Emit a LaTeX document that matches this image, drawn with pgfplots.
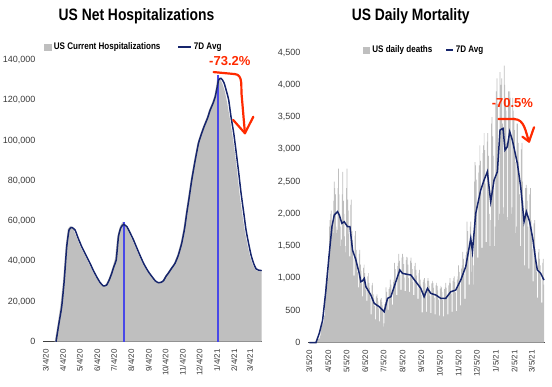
\documentclass[border=0pt]{standalone}
\usepackage{pgfplots}
\pgfplotsset{compat=1.18}
\usepackage{pgfplotstable}
\usepackage{fontspec}
\setmainfont{Liberation Sans}
\newfontfamily\narrowfont[FakeStretch=0.84]{Liberation Sans}
\definecolor{barg}{HTML}{BFBFBF}
\definecolor{navy}{HTML}{16256C}
\definecolor{vblue}{HTML}{4848E8}
\definecolor{annot}{HTML}{FF2A00}
\definecolor{tickc}{HTML}{3A3A3A}

% US current hospitalizations (raw)
\pgfplotstableread{
x y
16 0
21 8000
26 17400
31 30000
35.5 47200
39.5 56000
44 57500
50 55500
56 51500
62 47200
70 43000
77 38900
83 35500
89 32300
95 29500
101 27700
107 28200
112 31000
116 34000
120 37500
124 41500
128 52500
133 57500
138 59700
143 57500
149 54000
155 50500
164 44500
173 38900
181 35000
188 32300
194 30200
199.5 29300
204 29500
208.5 30300
213 32500
217 34000
223 36500
229 38900
235 43000
241 48900
246 56000
250 63800
254 71000
259 80400
265 90000
271 98600
276 103000
281 106900
287 111000
292 115200
297 118500
301 121800
304 126000
307 132000
309 131800
312 130500
316 128000
320 124500
324 119000
329 111000
334 102000
338 94000
343 82000
347 72000
352 62000
356 54500
360.5 48000
365 42500
369.5 38500
374 36000
378 35200
386 34800
}\hraw

% 7D average of hospitalizations
\pgfplotstableread{
x y
18.5 0
23 8000
28.6 17400
33 30000
37.6 47200
41.7 55500
46.5 56800
52.5 55500
58 51500
64.4 47200
72 43000
79.3 38900
85 35500
91 32300
97 29500
103 27700
109 28200
114 31000
118 34000
122 37500
126 40600
130 52200
134 56500
139 58300
145 57200
151 54000
157 50500
166 44500
175 38900
183 35000
190 32300
196 30200
201.5 29300
206 29500
210.5 30300
215 32500
219 34000
225 36500
231 38900
237 43000
243 48900
248 56000
252 63800
256 71000
261 80400
267 90000
273 98600
278 103000
283 106900
289 111000
294 115200
299 118500
303 121800
306 126000
309 130100
313 130900
316 130000
319 128400
323 124500
327 120100
331 112000
336 103600
340 95000
345 83700
349 74000
354 63800
358 55500
362.5 48900
367 43000
371.5 38900
376 36200
380 35600
386 35300
}\havg

% US daily deaths, one value per day from 3/5/20
\pgfplotstableread[row sep=\\]{d\\
0\\0\\1\\1\\1\\2\\3\\
8\\10\\12\\10\\15\\22\\30\\
45\\60\\55\\70\\110\\160\\230\\
280\\300\\330\\300\\420\\700\\900\\
1000\\1100\\1150\\1000\\1200\\1800\\1900\\
2000\\2050\\1800\\1800\\1700\\2200\\2500\\
2400\\2300\\1800\\1700\\1750\\2400\\2700\\
2300\\2000\\1800\\1500\\1600\\2300\\2650\\
2200\\2000\\1650\\1400\\1500\\2400\\2700\\
2220\\2050\\1690\\1340\\1340\\2140\\2220\\
1730\\1590\\1310\\1040\\1040\\1660\\1730\\
1440\\1320\\1090\\860\\860\\1380\\1440\\
1210\\1120\\920\\720\\720\\1160\\1210\\
1080\\990\\820\\650\\650\\1030\\1080\\
930\\850\\700\\440\\440\\890\\930\\
750\\690\\570\\360\\360\\720\\750\\
690\\640\\530\\330\\330\\670\\690\\
630\\580\\480\\250\\300\\600\\630\\
860\\790\\660\\510\\510\\830\\860\\
980\\900\\740\\590\\590\\940\\980\\
1240\\1140\\940\\740\\740\\1190\\1240\\
1380\\1270\\1050\\820\\820\\1320\\1380\\
1330\\1220\\1010\\800\\800\\1280\\1330\\
1320\\1210\\1000\\790\\790\\1270\\1320\\
1240\\1140\\940\\740\\740\\1190\\1240\\
1130\\1040\\860\\680\\680\\1080\\1130\\
980\\900\\740\\470\\470\\940\\980\\
1000\\920\\760\\480\\480\\960\\1000\\
960\\880\\730\\460\\460\\920\\960\\
930\\850\\700\\440\\440\\890\\930\\
880\\810\\670\\420\\420\\840\\880\\
860\\790\\660\\410\\410\\830\\860\\
930\\850\\700\\440\\440\\890\\930\\
1000\\920\\760\\480\\480\\960\\1000\\
1030\\940\\780\\490\\490\\980\\1030\\
1200\\1100\\910\\580\\580\\1150\\1200\\
1410\\1300\\1070\\680\\680\\1360\\1410\\
1880\\1730\\1430\\900\\900\\1800\\1880\\
1100\\1400\\1300\\900\\1200\\2500\\2800\\
2750\\2530\\2090\\1320\\1320\\2640\\2750\\
3060\\2820\\2330\\1470\\1470\\2940\\3060\\
3250\\2990\\2470\\1560\\1560\\3120\\3250\\
2900\\1500\\2000\\1500\\1900\\3400\\3500\\
3200\\2900\\2400\\1500\\1800\\3700\\3900\\
4100\\3700\\2800\\1900\\2000\\4200\\4000\\
4000\\4100\\3400\\2000\\2100\\4300\\4000\\
3800\\3600\\3100\\1900\\1950\\3900\\3800\\
3900\\3800\\3200\\2000\\2100\\3800\\3600\\
3500\\3300\\2800\\1700\\1800\\3400\\3400\\
3100\\2800\\2300\\1500\\1500\\3000\\3100\\
2500\\2200\\1850\\1200\\1200\\2400\\2450\\
2400\\2200\\1800\\1150\\1150\\2300\\2400\\
1900\\1800\\1450\\950\\950\\1850\\1900\\
1450\\1300\\1100\\700\\700\\1400\\1450\\
1300\\1200\\980\\620\\620\\1240\\1300\\
900\\
}\deaths

% 7D average of deaths
\pgfplotstableread{
x y
0 0
11 2
16.4 145
21.9 350
27.3 817
32.8 1386
37.2 1800
41 1981
46.4 2033
49.2 1981
53.6 1852
57.4 1877
62.8 1800
66.7 1800
71 1438
76.5 1283
82 1076
84.7 946
87.5 960
90.2 998
92.9 869
101 740
106.6 610
114.8 559
123 481
128.4 688
133.9 714
142 946
148.6 1128
153 1076
161 1060
166.7 1050
174.9 946
183 843
188.5 714
194 843
199.5 765
207.7 740
215.8 688
224 688
232.2 791
240.4 817
248.6 972
256.8 1179
261.2 1412
265 1619
267.8 1412
273.2 2007
281.4 2369
286.9 2524
292.3 2653
297.8 2188
303.3 2524
308.7 2653
313.1 3300
318 3326
321.3 2989
325.1 3041
329 3274
333.3 3145
341.5 2783
347 2420
352.5 1877
356.3 2033
361.7 1877
367.2 1593
371.6 1283
374.3 1128
379.8 1076
385.2 972
}\davg

\pgfplotsset{
  panel/.style={
    scale only axis, anchor=south west, clip=false,
    axis lines*=left,
    y axis line style={draw=none},
    x axis line style={draw=black!75, line width=0.9pt},
    tick style={draw=none}, major tick length=0pt,
    scaled y ticks=false, scaled x ticks=false,
    tick label style={color=tickc},
    yticklabel style={font=\fontsize{9}{10}\selectfont, xshift=-4pt},
    xticklabel style={rotate=90, anchor=east, font=\fontsize{8}{9}\selectfont, xshift=-4pt},
    xtick={0,31,61,92,122,153,184,214,245,275,306,337,365},
    legend columns=2,
    legend style={draw=none, fill=none, anchor=center,
      font=\narrowfont\bfseries\fontsize{9.6}{11}\selectfont},
  },
  sqleg/.style={legend image code/.code={\fill[barg] (0pt,-3.5pt) rectangle (7.5pt,3.5pt);}},
}

\begin{document}
\begin{tikzpicture}
% ---------------- left panel ----------------
\begin{axis}[panel,
  at={(43pt,45.3pt)}, width=219pt, height=281.7pt,
  xmin=-4.8, xmax=386.5, ymin=0, ymax=140000,
  ytick={0,20000,40000,60000,80000,100000,120000,140000},
  yticklabels={0,{20,000},{40,000},{60,000},{80,000},{100,000},{120,000},{140,000}},
  xticklabels={3/4/20,4/4/20,5/4/20,6/4/20,7/4/20,8/4/20,9/4/20,10/4/20,11/4/20,12/4/20,1/4/21,2/4/21,3/4/21},
  legend style={at={(0.415,1.046)}, /tikz/every even column/.append style={column sep=15pt}},
]
\addplot[fill=barg, draw=none, sqleg] table[x=x,y=y] {\hraw} \closedcycle;
\addplot[draw=vblue, line width=1.25pt, sharp plot, forget plot] coordinates {(140,0) (140,59700)};
\addplot[draw=vblue, line width=1.25pt, sharp plot, forget plot] coordinates {(308,0) (308,132400)};
\addplot[navy, line width=1.5pt, smooth, tension=0.3,
  legend image code/.code={\draw[navy, line width=1.5pt] (0pt,0pt) -- (13pt,0pt);}] table[x=x,y=y] {\havg};
\legend{US Current Hospitalizations, 7D Avg}
\node[annot, font=\bfseries\fontsize{13}{14}\selectfont] at (axis cs:329,139700) {-73.2\%};
\draw[annot, line width=2.2pt, line cap=round, line join=round]
  (axis cs:300,134000) -- (axis cs:338,133000) to[out=-5,in=95] (axis cs:350,123000) -- (axis cs:356,103600);
\draw[annot, line width=2.2pt, line cap=round, line join=round]
  (axis cs:335,110200) -- (axis cs:356,103600) -- (axis cs:371,111800);
\end{axis}
% ---------------- right panel ----------------
\begin{axis}[panel,
  at={(308pt,44.3pt)}, width=237pt, height=290pt,
  xmin=-2.1, xmax=386.9, ymin=0, ymax=4500,
  ytick={0,500,1000,1500,2000,2500,3000,3500,4000,4500},
  yticklabels={0,500,{1,000},{1,500},{2,000},{2,500},{3,000},{3,500},{4,000},{4,500}},
  xticklabels={3/5/20,4/5/20,5/5/20,6/5/20,7/5/20,8/5/20,9/5/20,10/5/20,11/5/20,12/5/20,1/5/21,2/5/21,3/5/21},
  legend style={at={(0.49,1.009)}, /tikz/every even column/.append style={column sep=11pt}},
]
\addplot[ybar, bar width=1.15, bar shift=0pt, fill=barg, draw=none, sqleg] table[x expr=\coordindex, y index=0] {\deaths};
\addplot[navy, line width=1.5pt, sharp plot,
  legend image code/.code={\draw[navy, line width=1.5pt] (0pt,0pt) -- (7pt,0pt);}] table[x=x,y=y] {\davg};
\legend{US daily deaths, 7D Avg}
\node[annot, font=\bfseries\fontsize{13}{14}\selectfont] at (axis cs:333.4,3715) {-70.5\%};
\draw[annot, line width=2.2pt, line cap=round, line join=round]
  (axis cs:310.5,3470) -- (axis cs:336,3470) to[out=0,in=110] (axis cs:360.7,3120);
\draw[annot, line width=2.2pt, line cap=round, line join=round]
  (axis cs:349.8,3197) -- (axis cs:360.7,3120) -- (axis cs:368.9,3343);
\end{axis}
% ---------------- titles ----------------
\node[anchor=base, font=\narrowfont\bfseries\fontsize{16.5}{18}\selectfont] at (136.5pt,366.3pt) {US Net Hospitalizations};
\node[anchor=base, font=\narrowfont\bfseries\fontsize{16.5}{18}\selectfont] at (410.7pt,366pt) {US Daily Mortality};
\pgfresetboundingbox
\path (0pt,0pt) rectangle (552pt,387pt);
\end{tikzpicture}
\end{document}
